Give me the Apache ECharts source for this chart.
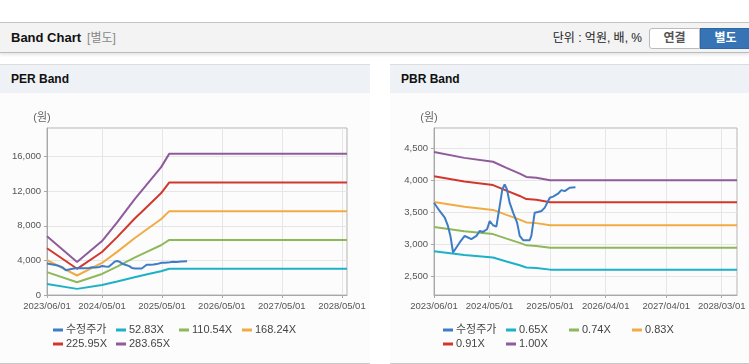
<!DOCTYPE html>
<html>
<head>
<meta charset="utf-8">
<title>Band Chart</title>
<script src="https://cdn.jsdelivr.net/npm/echarts@6/dist/echarts.min.js"></script>
<style>
  body { margin: 0; width: 749px; height: 364px; overflow: hidden; background: #fff; position: relative;
         font-family: "Liberation Sans", "Noto Sans CJK KR", sans-serif; }
  .topBar { position: absolute; left: 0; top: 22px; width: 749px; height: 29px; background: #f3f3f3;
            border-top: 1px solid #c4c4c4; border-bottom: 1px solid #bcbcbc; box-shadow: 0 2px 3px rgba(0,0,0,0.10); }
  .topBar .title { position: absolute; left: 11px; top: 0; line-height: 30px; font-size: 13px; font-weight: bold; color: #111; }
  .topBar .title span { font-weight: normal; color: #888; font-size: 12px; margin-left: 6px; }
  .topBar .unit { position: absolute; right: 107px; top: 0; line-height: 30px; font-size: 12px; color: #222; }
  .btn { position: absolute; top: 5px; height: 19px; line-height: 19px; text-align: center; font-size: 12px; font-weight: bold; }
  .btn.off { left: 649px; width: 49px; background: #fff; color: #555; border: 1px solid #bbb; border-radius: 3px 0 0 3px; }
  .btn.on { left: 700px; width: 49px; background: #3674b5; color: #fff; border: 1px solid #2f67a4; }
  .panel { position: absolute; top: 64px; height: 298px; background: #fcfcfc; border-top: 1px solid #dcdcdc; border-bottom: 1px solid #c8c8c8; }
  .panelHead { height: 28px; line-height: 29px; background: #eef1f5; padding-left: 11px; font-size: 12px; font-weight: bold; color: #111; }
  .chart { position: absolute; left: 0; top: 28px; height: 270px; }
</style>
</head>
<body>
<div class="topBar">
  <div class="title">Band Chart<span>[별도]</span></div>
  <div class="unit">단위 : 억원, 배, %</div>
  <div class="btn off">연결</div>
  <div class="btn on">별도</div>
</div>
<div class="panel" style="left:0;width:370px;">
  <div class="panelHead">PER Band</div>
  <div class="chart" id="perChart" style="width:370px;"></div>
</div>
<div class="panel" style="left:390px;width:359px;">
  <div class="panelHead">PBR Band</div>
  <div class="chart" id="pbrChart" style="width:359px;"></div>
</div>
<script>
// adjusted share price (수정주가), shared by both charts
var priceDates = ['2023-06-01','2023-07-05','2023-08-05','2023-08-24','2023-09-08','2023-09-24','2023-10-14','2023-11-03',
  '2023-12-03','2023-12-23','2024-01-12','2024-02-12','2024-03-03','2024-03-22','2024-04-16','2024-05-02','2024-05-22',
  '2024-06-11','2024-07-01','2024-07-17','2024-07-31','2024-08-14','2024-08-30','2024-09-20','2024-10-14','2024-10-30',
  '2024-11-19','2024-12-29','2025-01-08','2025-01-28','2025-02-17','2025-03-10','2025-03-30','2025-04-29','2025-05-19',
  '2025-06-18','2025-07-08','2025-07-28','2025-08-27','2025-10-01'];
var priceValues = [3647,3518,3415,3285,3130,2872,2950,3028,3130,3105,3079,3130,3208,3192,3234,3362,3296,3275,3595,3854,
  3931,3854,3647,3492,3337,3130,3063,3063,3130,3492,3502,3518,3570,3725,3741,3787,3843,3827,3880,3889];

// PER band lines
var perBandDates = ['2023-06-01','2023-12-01','2024-05-01','2024-08-01','2024-11-15','2025-02-01','2025-04-25','2025-06-15','2028-06-01'];
var per5283 = [1263,708,1162,1564,2060,2393,2747,3043,3043];
var per11054 = [2642,1481,2432,3272,4311,5007,5748,6367,6367];
var per16824 = [4021,2254,3701,4980,6561,7621,8748,9691,9691];
var per22595 = [5400,3028,4971,6688,8812,10236,11749,13015,13015];
var per28365 = [6779,3801,6240,8396,11062,12849,14750,16338,16338];

// PBR band lines
var pbrBandDates = ['2023-06-01','2023-12-01','2024-05-22','2024-08-11','2024-10-30','2024-12-09','2025-02-07','2025-05-01','2028-06-01'];
var pbr065 = [2892,2833,2794,2732,2673,2639,2631,2605,2605];
var pbr074 = [3269,3202,3158,3088,3022,2983,2974,2944,2944];
var pbr083 = [3659,3585,3535,3457,3383,3340,3329,3296,3296];
var pbr091 = [4058,3976,3921,3834,3752,3704,3692,3655,3655];
var pbr100 = [4435,4345,4285,4190,4100,4048,4035,3995,3995];

// axis ticks
var perXTicks = ['2023-06-01','2024-05-01','2025-05-01','2026-05-01','2027-05-01','2028-05-01'];
var pbrXTicks = ['2023-06-01','2024-05-01','2025-05-01','2026-04-01','2027-04-01','2028-03-01'];
var perYTicks = [0, 4000, 8000, 12000, 16000];
var pbrYTicks = [2500, 3000, 3500, 4000, 4500];
var xStart = '2023-06-01';
var xEnd = '2028-06-01';

var COLORS = ['#3f7cc6', '#1db1c6', '#8fb85a', '#f1ab43', '#d2372d', '#8f5b9c'];
var FONT = '"Liberation Sans", "Noto Sans CJK KR", sans-serif';

// 'YYYY-MM-DD' -> timestamp (x axis is a plain value axis so the ticks can sit on the exact dates)
var ts = function(str) {
  var p = str.split('-');
  return Date.UTC(+p[0], +p[1] - 1, +p[2]);
};

var toPairs = function(dates, values) {
  return dates.map(function(d, i) { return [ts(d), values[i]]; });
};

var pad = function(n) { return n < 10 ? '0' + n : '' + n; };

var dateLabel = function(value) {
  var d = new Date(value);
  return d.getUTCFullYear() + '/' + pad(d.getUTCMonth() + 1) + '/' + pad(d.getUTCDate());
};

var numLabel = function(value) {
  return String(value).replace(/\B(?=(\d{3})+(?!\d))/g, ',');
};

var lineSeries = function(name, color, dates, values, z) {
  return {
    name: name,
    type: 'line',
    data: toPairs(dates, values),
    symbol: 'none',
    z: z || 2,
    lineStyle: { width: 2, color: color },
    itemStyle: { color: color }
  };
};

var buildOption = function(cfg) {
  var xTicks = cfg.xTicks.map(ts);
  return {
    animation: false,
    legend: {
      left: 53, top: 231, width: 262, padding: 0,
      icon: 'rect', itemWidth: 10, itemHeight: 3, itemGap: 2,
      textStyle: { fontFamily: FONT, fontSize: 11, color: '#444', width: 48, lineHeight: 12,
                   padding: [0, 0, 0, -2] },
      data: cfg.series.map(function(s) { return s.name; })
    },
    grid: {
      left: cfg.gridLeft, top: 35, width: cfg.gridWidth, height: 167,
      show: true, borderColor: '#b5b5b5', borderWidth: 1, backgroundColor: 'transparent'
    },
    xAxis: {
      type: 'value',
      min: ts(xStart), max: ts(xEnd),
      axisLine: { lineStyle: { color: '#a8a8a8' } },
      axisTick: { show: true, length: 3, customValues: xTicks, lineStyle: { color: '#a8a8a8' } },
      axisLabel: { customValues: xTicks, formatter: dateLabel, margin: 7,
                   fontFamily: FONT, fontSize: 9.5, color: '#555' },
      splitLine: { show: true, lineStyle: { color: '#e6e6e6' } }
    },
    yAxis: {
      type: 'value',
      min: cfg.yMin, max: cfg.yMax,
      name: '(원)', nameLocation: 'end', nameGap: 5,
      nameTextStyle: { fontFamily: FONT, fontSize: 11, color: '#666', padding: [0, 10, 0, 0] },
      axisLine: { show: true, lineStyle: { color: '#a8a8a8' } },
      axisTick: { show: true, length: 3, customValues: cfg.yTicks, lineStyle: { color: '#a8a8a8' } },
      axisLabel: { customValues: cfg.yTicks, formatter: numLabel, margin: 6,
                   fontFamily: FONT, fontSize: 9.5, color: '#555' },
      splitLine: { show: true, lineStyle: { color: '#e6e6e6' } }
    },
    series: cfg.series
  };
};

var perChart = echarts.init(document.getElementById('perChart'));
perChart.setOption(buildOption({
  gridLeft: 47, gridWidth: 300,
  yMin: 0, yMax: 19300,
  xTicks: perXTicks, yTicks: perYTicks,
  series: [
    lineSeries('수정주가', COLORS[0], priceDates, priceValues, 3),
    lineSeries('52.83X', COLORS[1], perBandDates, per5283),
    lineSeries('110.54X', COLORS[2], perBandDates, per11054),
    lineSeries('168.24X', COLORS[3], perBandDates, per16824),
    lineSeries('225.95X', COLORS[4], perBandDates, per22595),
    lineSeries('283.65X', COLORS[5], perBandDates, per28365)
  ]
}));

var pbrChart = echarts.init(document.getElementById('pbrChart'));
pbrChart.setOption(buildOption({
  gridLeft: 44, gridWidth: 303,
  yMin: 2210, yMax: 4810,
  xTicks: pbrXTicks, yTicks: pbrYTicks,
  series: [
    lineSeries('수정주가', COLORS[0], priceDates, priceValues, 3),
    lineSeries('0.65X', COLORS[1], pbrBandDates, pbr065),
    lineSeries('0.74X', COLORS[2], pbrBandDates, pbr074),
    lineSeries('0.83X', COLORS[3], pbrBandDates, pbr083),
    lineSeries('0.91X', COLORS[4], pbrBandDates, pbr091),
    lineSeries('1.00X', COLORS[5], pbrBandDates, pbr100)
  ]
}));
</script>
</body>
</html>
